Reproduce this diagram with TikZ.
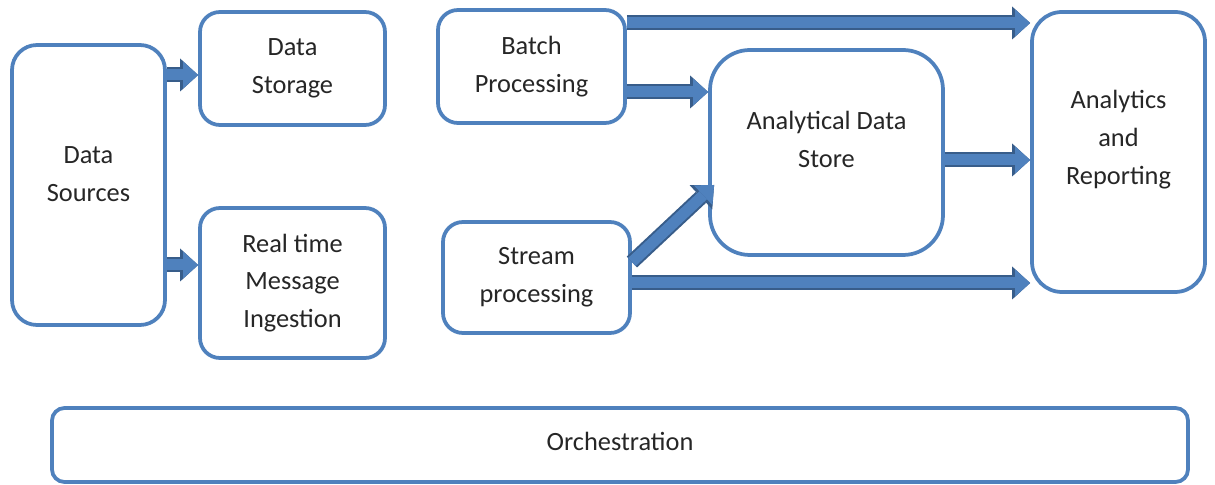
\documentclass[tikz,border=0pt]{standalone}
\usepackage{fontspec}
\setmainfont{Carlito}
\usepackage{xcolor}
\usetikzlibrary{arrows.meta}

\definecolor{boxline}{HTML}{4F81BD}
\definecolor{arrowfill}{HTML}{4F81BD}
\definecolor{arrowedge}{HTML}{385D8A}

\tikzset{
  stage/.style={draw=boxline, line width=0.075cm, fill=white, align=center,
    font=\fontsize{15}{21.5}\selectfont, text=black!85, inner sep=0pt},
  fatarrow/.style={line width=0.22cm, draw=arrowfill,
    -{Triangle[length=0.30cm 0, width=0.54cm 0, line width=0pt]},
    preaction={draw=arrowedge, line width=0.30cm,
      -{Triangle[length=0.36cm 0, width=0.66cm 0, line width=0pt]}}}
}

\begin{document}
\begin{tikzpicture}[x=1cm,y=1cm]
  \useasboundingbox (0,0) rectangle (24.3,9.7);

  % Sources and landing
  \node[stage, rounded corners=0.5cm, minimum width=3.06cm, minimum height=5.6cm,
    text depth=0.44cm] (src) at (1.77,6.00) {Data\\Sources};
  \node[stage, rounded corners=0.4cm, minimum width=3.7cm, minimum height=2.26cm]
    (store) at (5.85,8.33) {Data\\Storage};
  \node[stage, rounded corners=0.4cm, minimum width=3.7cm, minimum height=3.0cm]
    (ingest) at (5.85,4.04) {Real time\\Message\\Ingestion};

  % Processing
  \node[stage, rounded corners=0.4cm, minimum width=3.74cm, minimum height=2.26cm]
    (batch) at (10.63,8.37) {Batch\\Processing};
  \node[stage, rounded corners=0.4cm, minimum width=3.74cm, minimum height=2.22cm]
    (stream) at (10.73,4.15) {Stream\\processing};

  % Serving
  \node[stage, rounded corners=0.8cm, minimum width=4.66cm, minimum height=4.1cm,
    text depth=0.52cm] (ads) at (16.53,6.65) {Analytical Data\\Store};
  \node[stage, rounded corners=0.6cm, minimum width=3.46cm, minimum height=5.6cm,
    text depth=0.58cm] (report) at (22.37,6.66) {Analytics\\and\\Reporting};

  \node[stage, rounded corners=0.25cm, minimum width=22.72cm, minimum height=1.48cm,
    text depth=0.16cm] (orch) at (12.40,0.80) {Orchestration};

  % Flow start points
  \coordinate (src-a) at ([yshift=2.2cm]src.east);
  \coordinate (src-b) at ([yshift=-1.6cm]src.east);
  \coordinate (batch-a) at ([yshift=0.87cm]batch.east);
  \coordinate (batch-b) at ([yshift=-0.51cm]batch.east);
  \coordinate (ads-a) at ([yshift=-0.15cm]ads.east);
  \coordinate (stream-a) at ([yshift=0.31cm]stream.east);
  \coordinate (stream-b) at ([yshift=-0.11cm]stream.east);

  % Flows
  \draw[fatarrow] (src-a) -- (store.west |- src-a);
  \draw[fatarrow] (src-b) -- (ingest.west |- src-b);
  \draw[fatarrow] (batch-a) -- (report.west |- batch-a);
  \draw[fatarrow] (batch-b) -- (ads.west |- batch-b);
  \draw[fatarrow] (ads-a) -- (report.west |- ads-a);
  \draw[fatarrow] (stream-a) -- ([xshift=0.12cm, yshift=-0.65cm]ads.west);
  \draw[fatarrow] (stream-b) -- (report.west |- stream-b);
\end{tikzpicture}
\end{document}
